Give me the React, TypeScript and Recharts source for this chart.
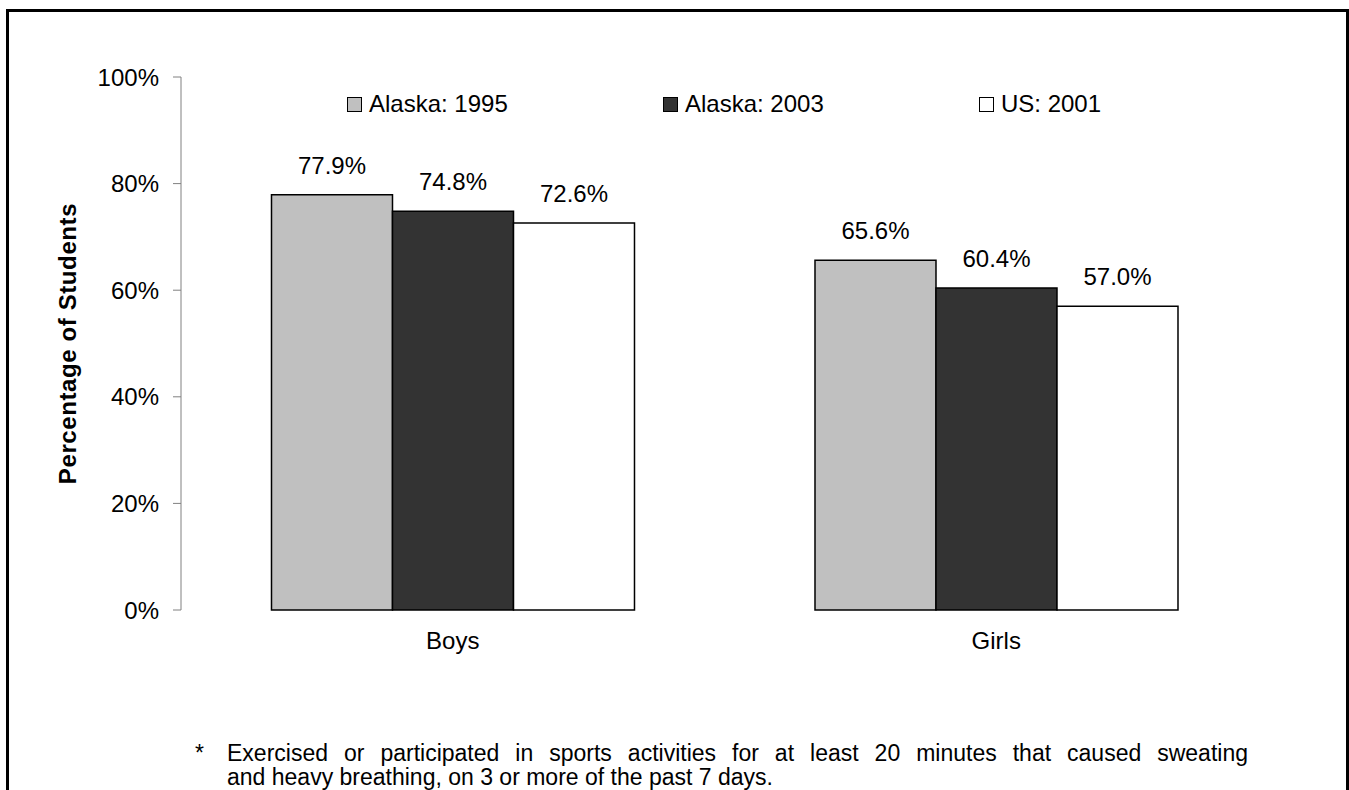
import { BarChart, Bar, XAxis, YAxis, Legend, LabelList } from 'recharts';

const categories = ['Boys', 'Girls'];
const alaska1995 = [77.9, 65.6];
const alaska2003 = [74.8, 60.4];
const us2001 = [72.6, 57.0];
const yTicks = [0, 20, 40, 60, 80, 100];
const boundaryTicks = [0, 1, 2];

const seriesInfo = [
  { key: 'a1995', name: 'Alaska: 1995', fill: '#c0c0c0' },
  { key: 'a2003', name: 'Alaska: 2003', fill: '#333333' },
  { key: 'us2001', name: 'US: 2001', fill: '#ffffff' },
];

const data = categories.map((c, i) => ({
  name: c,
  a1995: alaska1995[i],
  a2003: alaska2003[i],
  us2001: us2001[i],
}));

const FONT = '"Liberation Sans", Arial, Helvetica, sans-serif';
const AXIS = '#808080';

function LegendRow({ payload }: any) {
  return (
    <div style={{ display: 'flex', paddingLeft: 347, fontFamily: FONT, fontSize: 24, color: '#000' }}>
      {(payload || []).map((p: any) => (
        <div key={p.value} style={{ width: 316, display: 'flex', alignItems: 'center' }}>
          <span
            style={{
              width: 15,
              height: 15,
              boxSizing: 'border-box',
              border: '1.5px solid #000',
              background: p.color,
              marginRight: 7,
              display: 'inline-block',
            }}
          />
          <span>{p.value}</span>
        </div>
      ))}
    </div>
  );
}

export default function App() {
  return (
    <div style={{ position: 'absolute', left: 0, top: 0, width: 1349, height: 790, background: '#fff', overflow: 'hidden' }}>
      <div
        style={{
          position: 'absolute',
          left: 6,
          top: 9,
          width: 1343,
          height: 820,
          border: '3px solid #000',
          boxSizing: 'border-box',
        }}
      />
      <div style={{ position: 'absolute', left: 0, top: 0 }}>
        <BarChart
          width={1349}
          height={790}
          data={data}
          margin={{ top: 77, right: 81, bottom: 120, left: 67 }}
          barCategoryGap="16.65%"
          barGap={0}
        >
          <XAxis
            xAxisId="edge"
            type="number"
            domain={[0, 2]}
            ticks={boundaryTicks}
            height={0}
            tickSize={8}
            stroke={AXIS}
            tickFormatter={() => ''}
          />
          <XAxis
            dataKey="name"
            height={60}
            axisLine={false}
            tickLine={false}
            tickSize={0}
            tickMargin={22}
            tick={{ fontSize: 24, fill: '#000', fontFamily: FONT }}
          />
          <YAxis
            width={114}
            domain={[0, 100]}
            ticks={yTicks}
            tickFormatter={(v) => v + '%'}
            tickSize={8}
            tickMargin={14}
            stroke={AXIS}
            tick={{ fontSize: 24, fill: '#000', fontFamily: FONT }}
            label={{
              value: 'Percentage of Students',
              angle: -90,
              position: 'insideLeft',
              offset: 0,
              style: { textAnchor: 'middle', fontSize: 24, fontWeight: 'bold', fill: '#000', fontFamily: FONT, letterSpacing: 0.6 },
            }}
          />
          <Legend
            layout="horizontal"
            verticalAlign="middle"
            align="center"
            wrapperStyle={{ top: 90, left: 0, width: 1349 }}
            content={<LegendRow />}
          />
          {seriesInfo.map((s) => (
            <Bar
              key={s.key}
              dataKey={s.key}
              name={s.name}
              fill={s.fill}
              stroke="#000"
              strokeWidth={1.5}
              isAnimationActive={false}
            >
              <LabelList
                dataKey={s.key}
                position="top"
                offset={21}
                formatter={(v: any) => Number(v).toFixed(1) + '%'}
                style={{ fontSize: 24, fill: '#000', fontFamily: FONT }}
              />
            </Bar>
          ))}
        </BarChart>
      </div>
      <div style={{ position: 'absolute', left: 195, top: 741, fontFamily: FONT, fontSize: 23, lineHeight: '24px', color: '#000' }}>*</div>
      <div style={{ position: 'absolute', left: 227, top: 741, width: 1021, fontFamily: FONT, fontSize: 23, lineHeight: '24px', color: '#000' }}>
        <div style={{ textAlign: 'justify', textAlignLast: 'justify', whiteSpace: 'nowrap' }}>
          Exercised or participated in sports activities for at least 20 minutes that caused sweating
        </div>
        <div>and heavy breathing, on 3 or more of the past 7 days.</div>
      </div>
    </div>
  );
}
